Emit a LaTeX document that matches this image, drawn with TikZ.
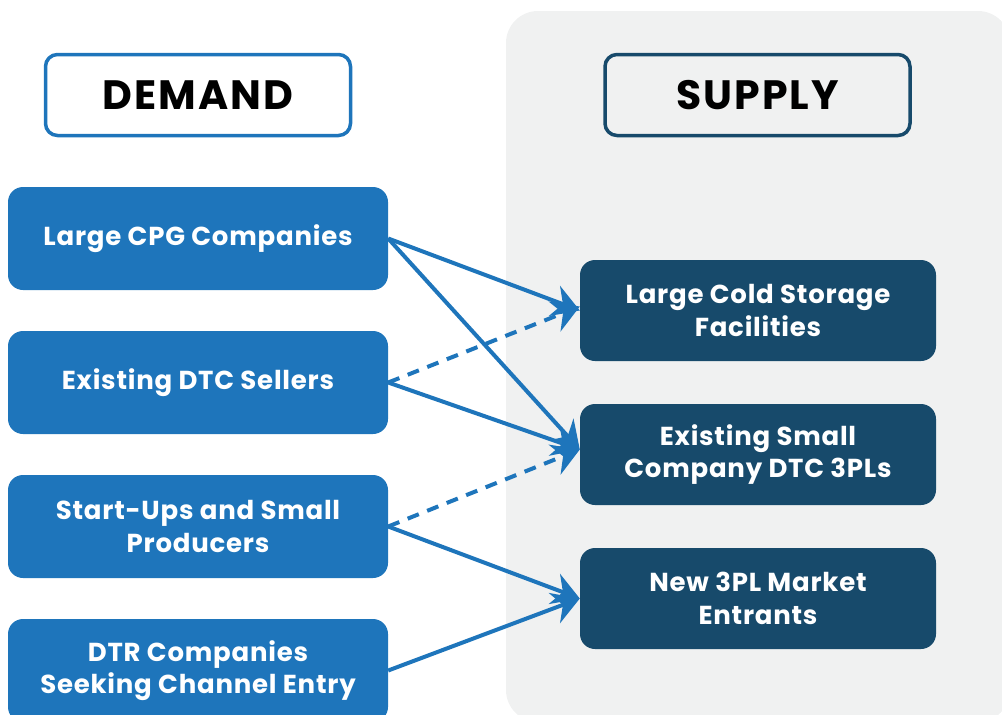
\documentclass[tikz,border=0pt]{standalone}
\usepackage{fontspec}
\setmainfont{Poppins}
\newfontfamily\boxfont{Poppins}[LetterSpace=3]
\newfontfamily\headfont{Poppins}[LetterSpace=5]
\usetikzlibrary{arrows.meta}
\definecolor{demandblue}{HTML}{1E75BB}
\definecolor{supplyblue}{HTML}{174A6B}
\definecolor{panelgray}{HTML}{F0F1F1}
\begin{document}
\begin{tikzpicture}[x=1pt,y=-1pt,
  every node/.style={font=\boxfont\bfseries\fontsize{26}{32.5}\selectfont,align=center},
  head/.style={draw,line width=3.5pt,rounded corners=12pt,minimum width=305pt,
    minimum height=81pt,text=black,font=\headfont\bfseries\fontsize{41}{44}\selectfont},
  demand/.style={fill=demandblue,text=white,rounded corners=15pt,
    minimum width=380pt,minimum height=103pt},
  supply/.style={fill=supplyblue,text=white,rounded corners=15pt,
    minimum width=356pt,minimum height=101pt},
  link/.style={demandblue,line width=4pt,-{Stealth[length=27pt,width=32pt,inset=9pt]}},
  maybe/.style={link,dash pattern=on 12pt off 9pt}]
\useasboundingbox (0,0) rectangle (1002,715);
% supply side background
\fill[panelgray,rounded corners=32pt] (506,11) rectangle (1010,722);
\node[head,draw=demandblue,fill=white] (demand) at (198,95) {DEMAND};
\node[head,draw=supplyblue] (supply) at (757.5,95) {SUPPLY};
% demand groups
\node[demand] (cpg) at (198,238.5) {Large CPG Companies};
\node[demand] (dtc) at (198,382.5) {Existing DTC Sellers};
\node[demand] (startup) at (198,526.5) {Start-Ups and Small\\Producers};
\node[demand] (dtr) at (198,670.5) {DTR Companies\\Seeking Channel Entry};
% supply groups
\node[supply] (cold) at (758,310.5) {Large Cold Storage\\Facilities};
\node[supply] (small3pl) at (758,454.5) {Existing Small\\Company DTC 3PLs};
\node[supply] (new3pl) at (758,598.5) {New 3PL Market\\Entrants};
% who can go where
\draw[link] (cpg.east) -- (cold.west);
\draw[link] (cpg.east) -- ([yshift=5pt]small3pl.west);
\draw[maybe] (dtc.east) -- ([yshift=4pt]cold.west);
\draw[link] (dtc.east) -- ([yshift=5pt]small3pl.west);
\draw[maybe] (startup.east) -- ([yshift=5pt]small3pl.west);
\draw[link] (startup.east) -- (new3pl.west);
\draw[link] (dtr.east) -- (new3pl.west);
\end{tikzpicture}
\end{document}
